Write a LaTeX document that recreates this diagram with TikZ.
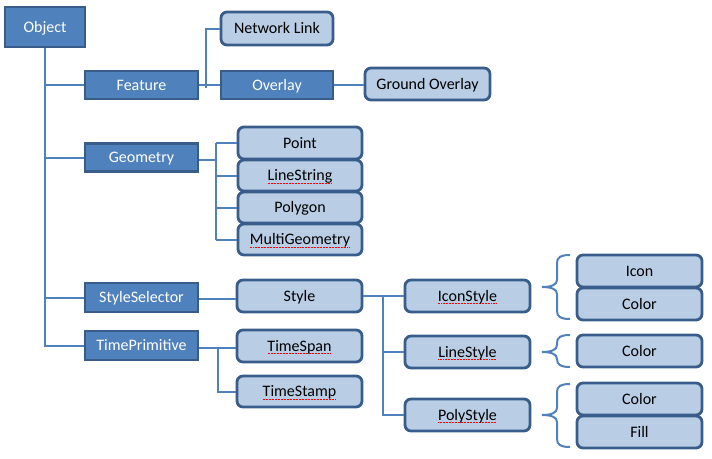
\documentclass[tikz,border=0pt]{standalone}
\usepackage{fontspec}
\setmainfont{Carlito}
\definecolor{darkfill}{HTML}{4F81BD}
\definecolor{boxborder}{HTML}{385D8A}
\definecolor{lightfill}{HTML}{B9CDE5}
\definecolor{linkcol}{HTML}{4F81BD}
\newcommand\spellerr[1]{\setbox0\hbox{#1}\leavevmode\rlap{\textcolor{red}{\lower2.8pt\hbox to\wd0{\xleaders\hbox{\rule{0.8pt}{0.7pt}\kern0.7pt}\hfill}}}\box0}
\newcommand\bracepath[3]{(570,#1) .. controls (561,#1) and (557,{#1+2}) .. (557,{#1+8}) -- (557,{#3-7}) .. controls (557,{#3-2}) and (551,#3) .. (542,#3) .. controls (551,#3) and (557,{#3+2}) .. (557,{#3+7}) -- (557,{#2-8}) .. controls (557,{#2-2}) and (561,#2) .. (570,#2)}
\begin{document}
\begin{tikzpicture}[x=1pt,y=-1pt,
  every node/.style={font=\fontsize{16}{19}\selectfont, inner sep=0pt, text height=10pt, text depth=0pt},
  darkbox/.style={draw=boxborder, line width=2.5pt, fill=darkfill, text=white, minimum width=#1, minimum height=28},
  darkbox/.default=113,
  lightbox/.style={draw=boxborder, line width=2.8pt, fill=lightfill, text=black, rounded corners=6pt, minimum width=#1, minimum height=32},
  lightbox/.default=124,
  link/.style={draw=linkcol, line width=2pt},
  bracestyle/.style={draw=linkcol, line width=2pt}]
\useasboundingbox (0,0) rectangle (712,458);
% dark boxes
\node[darkbox=80, minimum height=40] (Object) at (45,27) {Object};
\node[darkbox] (Feature) at (141.5,85) {Feature};
\node[darkbox=112] (Overlay) at (277,85) {Overlay};
\node[darkbox] (Geometry) at (141.5,157.5) {Geometry};
\node[darkbox, minimum height=29] (StyleSelector) at (141.5,297.5) {StyleSelector};
\node[darkbox, minimum height=29] (TimePrimitive) at (141.5,345.5) {TimePrimitive};
% light boxes
\node[lightbox=112, minimum height=33] (NetworkLink) at (277,28.5) {Network Link};
\node[lightbox=125] (GroundOverlay) at (427.5,84) {Ground Overlay};
\node[lightbox] (Point) at (300,143) {Point};
\node[lightbox, minimum height=31] (LineString) at (300,175.5) {\spellerr{LineString}};
\node[lightbox, minimum height=31] (Polygon) at (300,207.5) {Polygon};
\node[lightbox, minimum height=31] (MultiGeometry) at (300,239.5) {\spellerr{MultiGeometry}};
\node[lightbox=125] (Style) at (299.5,296) {Style};
\node[lightbox=125] (TimeSpan) at (299.5,346) {\spellerr{TimeSpan}};
\node[lightbox=125, minimum height=31] (TimeStamp) at (299.5,391.5) {\spellerr{TimeStamp}};
\node[lightbox=125] (IconStyle) at (467.5,296) {\spellerr{IconStyle}};
\node[lightbox=125] (LineStyle) at (467.5,352) {\spellerr{LineStyle}};
\node[lightbox=125] (PolyStyle) at (467.5,415) {\spellerr{PolyStyle}};
\node[lightbox=125] (Icon) at (639.5,271) {Icon};
\node[lightbox=125] (ColorA) at (639.5,304) {Color};
\node[lightbox=125] (ColorB) at (639.5,351) {Color};
\node[lightbox=125] (ColorC) at (639.5,399) {Color};
\node[lightbox=125] (Fill) at (639.5,432) {Fill};
% connectors
\draw[link] (Object.south) |- (TimePrimitive.west);
\draw[link] (Object.south |- Feature.west) -- (Feature.west);
\draw[link] (Object.south |- Geometry.west) -- (Geometry.west);
\draw[link] (Object.south |- StyleSelector.west) -- (StyleSelector.west);
\draw[link] (Feature.east) -- (Overlay.west);
\draw[link] ([xshift=7pt,yshift=-3pt]Feature.east) |- (NetworkLink.west);
\draw[link] (Overlay.east) -- (Overlay.east -| GroundOverlay.west);
\coordinate (gbus) at ([xshift=17pt,yshift=-2pt]Geometry.east);
\draw[link] ([yshift=-2pt]Geometry.east) -- (gbus);
\draw[link] (gbus |- Point.west) -- (gbus |- MultiGeometry.west);
\draw[link] (gbus |- Point.west) -- (Point.west);
\draw[link] (gbus |- LineString.west) -- (LineString.west);
\draw[link] (gbus |- Polygon.west) -- (Polygon.west);
\draw[link] (gbus |- MultiGeometry.west) -- (MultiGeometry.west);
\draw[link] ([yshift=-1pt]StyleSelector.east) -- ([yshift=-1pt]StyleSelector.east -| Style.west);
\draw[link] ([yshift=-2pt]TimePrimitive.east) -- ([yshift=-2pt]TimePrimitive.east -| TimeSpan.west);
\draw[link] ([xshift=19pt,yshift=-2pt]TimePrimitive.east) |- (TimeStamp.west);
\draw[link] (Style.east) -- (IconStyle.west);
\draw[link] ([xshift=20pt]Style.east) |- (LineStyle.west);
\draw[link] ([xshift=20pt]Style.east) |- (PolyStyle.west);
% braces
\draw[bracestyle] \bracepath{255}{319}{287};
\draw[bracestyle] \bracepath{335}{367}{352};
\draw[bracestyle] \bracepath{384}{447}{415};
\end{tikzpicture}
\end{document}
